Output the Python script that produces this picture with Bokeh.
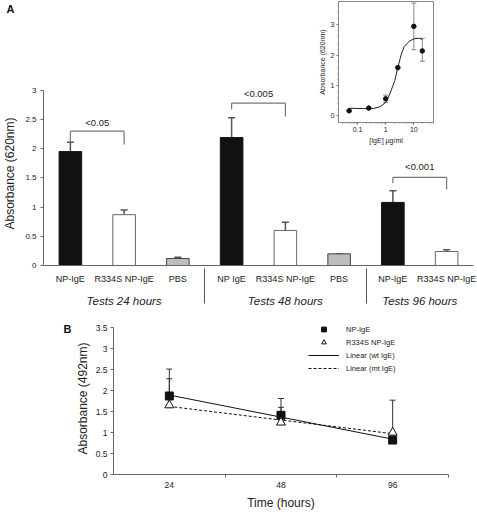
import numpy as np
from bokeh.plotting import figure
from bokeh.models import (FactorRange, Range1d, CategoricalAxis, FixedTicker,
                          ColumnDataSource, Whisker, TeeHead, Legend, LegendItem,
                          CustomJSTickFormatter)
from bokeh.layouts import column
from bokeh.core.properties import value
from bokeh.embed import file_html
from bokeh.resources import INLINE

FONT = "Liberation Sans"
TXT = "#222222"
AX = "#666666"

# ---------------- Panel A data ----------------
bar_group = ["Tests 24 hours", "Tests 24 hours", "Tests 24 hours",
             "Tests 48 hours", "Tests 48 hours", "Tests 48 hours",
             "Tests 96 hours", "Tests 96 hours"]
bar_label = ["NP-IgE", "R334S NP-IgE", "PBS",
             "NP IgE", "R334S NP-IgE", "PBS",
             "NP-IgE", "R334S NP-IgE"]
bar_kind = ["wt", "mt", "pbs", "wt", "mt", "pbs", "wt", "mt"]
bar_value = [1.95, 0.87, 0.12, 2.19, 0.60, 0.20, 1.08, 0.24]
bar_err_top = [2.11, 0.95, 0.14, 2.53, 0.74, 0.20, 1.28, 0.27]
a_yticks = [0, 0.5, 1, 1.5, 2, 2.5, 3]

pair_group = ["Tests 24 hours", "Tests 48 hours", "Tests 96 hours"]
pair_left = ["NP-IgE", "NP IgE", "NP-IgE"]
pair_right = ["R334S NP-IgE", "R334S NP-IgE", "R334S NP-IgE"]
pair_top = [2.30, 2.78, 1.51]
pair_left_end = [2.11, 2.67, 1.41]
pair_right_end = [2.07, 2.55, 1.30]
pair_p = ["<0.05", "<0.005", "<0.001"]
pair_text_y = [2.44, 2.95, 1.70]

# ---------------- Inset data ----------------
ige_conc = [0.05, 0.25, 1, 2.7, 10, 20]
ige_abs = [0.165, 0.255, 0.56, 1.59, 2.95, 2.14]
ige_lo = [0.165, 0.255, 0.44, 1.59, 2.18, 1.80]
ige_hi = [0.165, 0.255, 0.685, 1.59, 3.72, 2.56]
curve_x = [0.05, 0.15, 0.36, 0.63, 1.0, 1.4, 2.1, 2.7, 3.6, 4.6, 6.9, 10.2, 15, 20]
curve_y = [0.25, 0.24, 0.24, 0.30, 0.44, 0.72, 1.16, 1.60, 2.04, 2.29, 2.46, 2.54, 2.56, 2.52]
inset_xticks = [0.1, 1, 10]
inset_yticks = [0, 1, 2, 3]

# ---------------- Panel B data ----------------
t_labels = ["24", "48", "96"]
np_vals = [1.87, 1.41, 0.82]
np_err = [2.51, 1.81, 0.82]
mt_vals = [1.65, 1.24, 1.00]
mt_err = [2.28, 1.60, 1.77]
b_yticks = [0, 0.5, 1, 1.5, 2, 2.5, 3, 3.5]

panel_letters = ["A", "B"]

fmt = lambda: CustomJSTickFormatter(code="return String(tick)")

# ================= Panel A =================
H_A = 311
factors = list(zip(bar_group, bar_label))
xr = FactorRange(factors=factors, factor_padding=0, group_padding=0,
                 subgroup_padding=0, range_padding=0)
pa = figure(x_range=xr, y_range=Range1d(0, 3.15), width=477, height=H_A,
            output_backend="svg", toolbar_location=None, x_axis_location=None,
            min_border_left=37, min_border_right=4, min_border_top=81, min_border_bottom=46)
pa.outline_line_color = None
pa.grid.visible = False

cat_a = CategoricalAxis(axis_line_color=AX, major_tick_line_color=None,
                        major_tick_out=0, major_tick_in=0,
                        major_label_standoff=8, major_label_text_font_size="9px",
                        major_label_text_font=FONT, major_label_text_color=TXT,
                        group_text_font_size="11.5px", group_text_font_style="italic",
                        group_text_font=FONT, group_text_color=TXT,
                        separator_line_color="#555555", separator_line_width=1)
pa.add_layout(cat_a, "below")

ya = pa.yaxis[0]
ya.ticker = FixedTicker(ticks=a_yticks)
ya.bounds = (0, 3)
ya.formatter = fmt()
ya.axis_label = "Absorbance (620nm)"
ya.axis_label_text_font = FONT
ya.axis_label_text_font_size = "12px"
ya.axis_label_text_font_style = "normal"
ya.axis_label_text_color = TXT
ya.axis_label_standoff = 5
ya.major_label_text_font = FONT
ya.major_label_text_font_size = "8px"
ya.major_label_text_color = TXT
ya.major_label_standoff = 4
ya.major_tick_in = 0
ya.major_tick_out = 3
ya.minor_tick_line_color = None
ya.axis_line_color = AX
ya.major_tick_line_color = AX

kind_fill = {"wt": "#111111", "mt": "#ffffff", "pbs": "#bdbdbd"}
kind_line = {"wt": "#111111", "mt": "#666666", "pbs": "#444444"}
src = ColumnDataSource(dict(x=factors, top=bar_value, err=bar_err_top,
                            fill=[kind_fill[k] for k in bar_kind],
                            line=[kind_line[k] for k in bar_kind]))
pa.vbar(x="x", top="top", width=0.42, source=src, fill_color="fill", line_color="line", line_width=1)
pa.add_layout(Whisker(base="x", lower="top", upper="err", source=src, dimension="height",
                      lower_head=None,
                      upper_head=TeeHead(size=7, line_color="#555555", line_width=1.5),
                      line_color="#555555", line_width=1.5))

br = ColumnDataSource(dict(
    x0=[(g, l) for g, l in zip(pair_group, pair_left)],
    x1=[(g, r) for g, r in zip(pair_group, pair_right)],
    mid=[(g, l, 0.5) for g, l in zip(pair_group, pair_left)],
    top=pair_top, lb=pair_left_end, rb=pair_right_end, p=pair_p, ty=pair_text_y))
BR = "#777777"
pa.segment(x0="x0", y0="lb", x1="x0", y1="top", source=br, line_color=BR, line_width=1.2)
pa.segment(x0="x0", y0="top", x1="x1", y1="top", source=br, line_color=BR, line_width=1.2)
pa.segment(x0="x1", y0="rb", x1="x1", y1="top", source=br, line_color=BR, line_width=1.2)
pa.text(x="mid", y="ty", text="p", source=br, text_font=value(FONT), text_font_size="9.5px",
        text_align="center", text_baseline="middle", text_color=TXT)

# ================= Inset =================
H_I = 148
pi = figure(x_axis_type="log", x_range=Range1d(0.021, 50), y_range=Range1d(-0.22, 3.77),
            width=122, height=H_I, output_backend="svg", toolbar_location=None,
            min_border_left=24, min_border_right=3, min_border_top=1, min_border_bottom=26)
pi.grid.visible = False
pi.outline_line_color = "#888888"
pi.border_fill_alpha = 0
x_minor = [m * 10.0 ** e for e in (-2, -1, 0, 1) for m in range(2, 10) if 0.021 <= m * 10.0 ** e <= 50]
y_minor = [round(i * 0.2, 1) for i in range(0, 19)]
xi = pi.xaxis[0]
xi.ticker = FixedTicker(ticks=inset_xticks, minor_ticks=x_minor)
xi.formatter = fmt()
xi.axis_label = "[IgE] \u00b5g/ml"
yi = pi.yaxis[0]
yi.ticker = FixedTicker(ticks=inset_yticks, minor_ticks=y_minor)
yi.formatter = fmt()
yi.axis_label = "Absorbance (620nm)"
for ax in (xi, yi):
    ax.axis_label_text_font = FONT
    ax.axis_label_text_font_size = "7px"
    ax.axis_label_text_font_style = "normal"
    ax.axis_label_text_color = TXT
    ax.axis_label_standoff = 2
    ax.major_label_text_font = FONT
    ax.major_label_text_font_size = "7px"
    ax.major_label_text_color = TXT
    ax.major_label_standoff = 2
    ax.major_tick_in = 0
    ax.major_tick_out = 2
    ax.minor_tick_in = 0
    ax.minor_tick_out = 1
    ax.axis_line_color = "#888888"
    ax.major_tick_line_color = "#666666"
    ax.minor_tick_line_color = "#888888"
isrc = ColumnDataSource(dict(x=ige_conc, y=ige_abs, lo=ige_lo, hi=ige_hi))
pi.line(x=curve_x, y=curve_y, line_color="#222222", line_width=1)
pi.add_layout(Whisker(base="x", lower="lo", upper="hi", source=isrc, dimension="height",
                      lower_head=TeeHead(size=5, line_color="#888888"),
                      upper_head=TeeHead(size=5, line_color="#888888"),
                      line_color="#888888", line_width=1))
pi.scatter(x="x", y="y", source=isrc, size=4.5, fill_color="#111111", line_color="#111111")

# ================= Panel B =================
H_B = 201
n_t = len(t_labels)
t_pos = [i + 0.5 for i in range(n_t)]
pb = figure(x_range=Range1d(0, n_t), y_range=Range1d(0, 3.62), width=477, height=H_B,
            output_backend="svg", toolbar_location=None,
            min_border_left=113, min_border_right=29, min_border_top=11, min_border_bottom=30)
pb.outline_line_color = None
pb.grid.visible = False
xb = pb.xaxis[0]
xb.ticker = FixedTicker(ticks=t_pos, minor_ticks=list(range(1, n_t + 1)))
xb.formatter = CustomJSTickFormatter(args=dict(labels=t_labels),
                                     code="return labels[Math.floor(tick)]")
xb.major_tick_line_color = None
xb.major_tick_out = 0
xb.major_tick_in = 0
xb.minor_tick_in = 0
xb.minor_tick_out = 3
xb.minor_tick_line_color = AX
xb.axis_line_color = AX
xb.major_label_standoff = 4
xb.major_label_text_font_size = "8.5px"
xb.major_label_text_font = FONT
xb.major_label_text_color = TXT
xb.axis_label = "Time (hours)"
xb.axis_label_text_font = FONT
xb.axis_label_text_font_size = "12px"
xb.axis_label_text_font_style = "normal"
xb.axis_label_text_color = TXT
xb.axis_label_standoff = 5

yb = pb.yaxis[0]
yb.ticker = FixedTicker(ticks=b_yticks)
yb.bounds = (0, 3.5)
yb.formatter = fmt()
yb.axis_label = "Absorbance (492nm)"
yb.axis_label_text_font = FONT
yb.axis_label_text_font_size = "12px"
yb.axis_label_text_font_style = "normal"
yb.axis_label_text_color = TXT
yb.axis_label_standoff = 3
yb.major_label_text_font = FONT
yb.major_label_text_font_size = "8.5px"
yb.major_label_text_color = TXT
yb.major_label_standoff = 3
yb.major_tick_in = 0
yb.major_tick_out = 3
yb.minor_tick_line_color = None
yb.axis_line_color = AX
yb.major_tick_line_color = AX

idx = np.arange(n_t)
fit_np = np.polyval(np.polyfit(idx, np_vals, 1), idx)
fit_mt = np.polyval(np.polyfit(idx, mt_vals, 1), idx)
r_lnp = pb.line(x=t_pos, y=list(fit_np), line_color="#111111", line_width=1)
r_lmt = pb.line(x=t_pos, y=list(fit_mt), line_color="#111111", line_width=1, line_dash="3 2")
bsrc = ColumnDataSource(dict(x=t_pos, np=np_vals, npe=np_err, mt=mt_vals, mte=mt_err))
for lo, hi in (("np", "npe"), ("mt", "mte")):
    pb.add_layout(Whisker(base="x", lower=lo, upper=hi, source=bsrc, dimension="height",
                          lower_head=None,
                          upper_head=TeeHead(size=6, line_color="#333333", line_width=1),
                          line_color="#333333", line_width=1))
r_np = pb.scatter(x="x", y="np", source=bsrc, marker="square", size=8,
                  fill_color="#111111", line_color="#111111")
r_mt = pb.scatter(x="x", y="mt", source=bsrc, marker="triangle", size=9,
                  fill_color="#ffffff", line_color="#111111", line_width=1)
leg = Legend(items=[LegendItem(label="NP-IgE", renderers=[r_np]),
                    LegendItem(label="R334S NP-IgE", renderers=[r_mt]),
                    LegendItem(label="Linear (wt IgE)", renderers=[r_lnp]),
                    LegendItem(label="Linear (mt IgE)", renderers=[r_lmt])],
             location=(195, 100), padding=0, margin=0, spacing=1,
             glyph_width=31, glyph_height=12, label_height=12, label_standoff=7,
             label_text_font=FONT, label_text_font_size="7.5px", label_text_color=TXT,
             border_line_color=None, background_fill_alpha=0)
pb.add_layout(leg)


# ================= Panel letters =================
def letter_fig(txt):
    f = figure(x_range=Range1d(0, 1), y_range=Range1d(0, 1), width=20, height=16,
               output_backend="svg", toolbar_location=None, min_border=0,
               x_axis_location=None, y_axis_location=None)
    f.outline_line_color = None
    f.grid.visible = False
    f.background_fill_alpha = 0
    f.border_fill_alpha = 0
    f.text(x=[0.5], y=[0.5], text=[txt], text_font=value(FONT), text_font_size="11px",
           text_font_style="bold", text_align="center", text_baseline="middle",
           text_color="#111111")
    return f


la = letter_fig(panel_letters[0])
lb = letter_fig(panel_letters[1])

box_a = column(pa)
box_i = column(pi, margin=(-H_A, 0, H_A - H_I, 314))
box_la = column(la, margin=(-H_A, 0, H_A - 16, 0))
box_b = column(pb)
box_lb = column(lb, margin=(320 - (H_A + H_B), 0, (H_A + H_B) - 336, 57))
layout = column(box_a, box_i, box_la, box_b, box_lb, spacing=0)
open("out.html", "w").write(file_html(layout, INLINE))
